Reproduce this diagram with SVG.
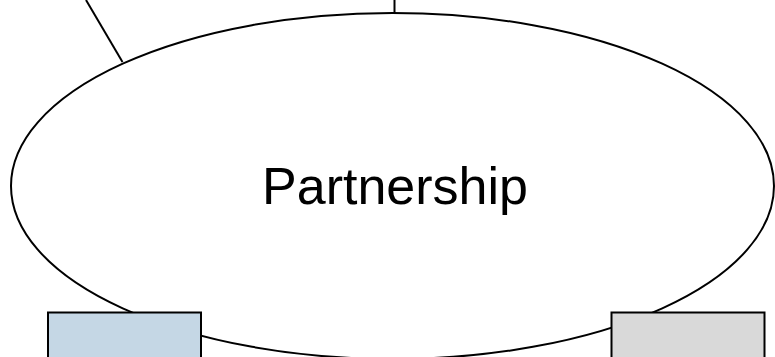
<svg xmlns="http://www.w3.org/2000/svg" width="775" height="357" viewBox="0 0 775 357">
<style>
.edge{stroke:#000;stroke-width:2;fill:none}
.shape{stroke:#000;stroke-width:2}
.label{font-family:"Liberation Sans",Arial,sans-serif;font-size:52px;fill:#000;text-anchor:middle}
</style>
<rect width="775" height="357" fill="#fff"/>
<g id="connectors">
<line class="edge" x1="86" y1="0" x2="122.5" y2="62"/>
<line class="edge" x1="394.5" y1="0" x2="394.5" y2="13"/>
</g>
<g id="partnership">
<ellipse class="shape" cx="392.5" cy="186" rx="381.5" ry="173" fill="#fff"/>
<text class="label" x="395" y="204">Partnership</text>
</g>
<g id="node-left">
<rect class="shape" x="48" y="312.5" width="153" height="60" fill="#c5d7e5"/>
</g>
<g id="node-right">
<rect class="shape" x="611.5" y="312.5" width="153" height="60" fill="#d9d9d9"/>
</g>
</svg>
